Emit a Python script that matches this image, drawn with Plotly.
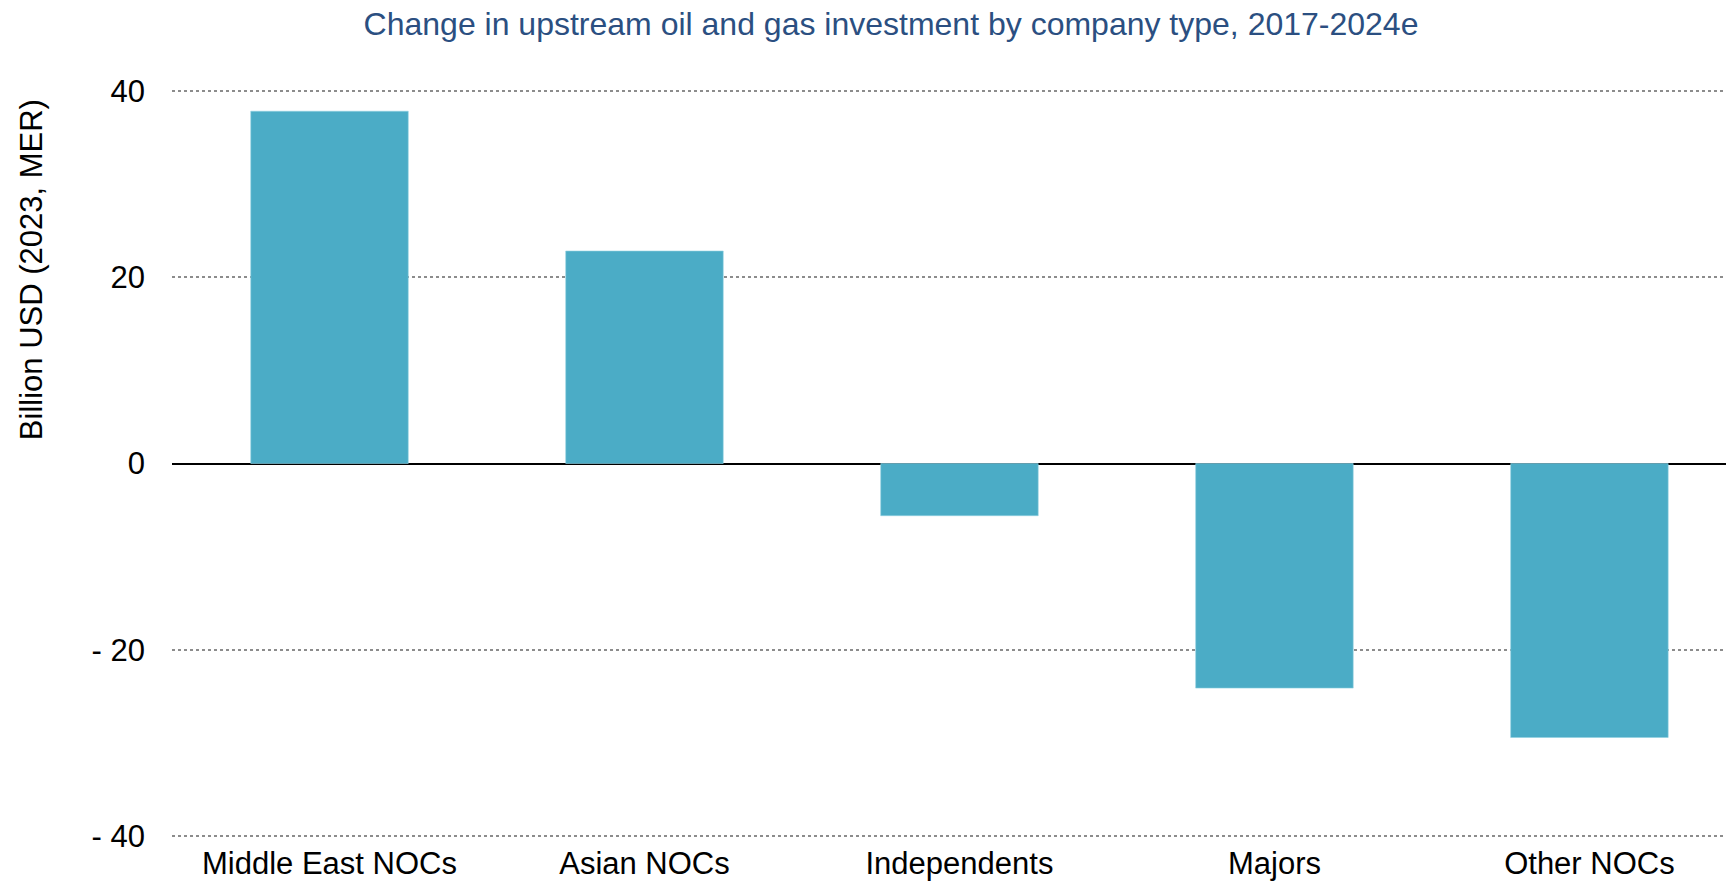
import plotly.graph_objects as go

company_types = ["Middle East NOCs", "Asian NOCs", "Independents", "Majors", "Other NOCs"]
change_bn_usd = [37.8, 22.8, -5.6, -24.1, -29.4]
tick_values = [-40, -20, 0, 20, 40]
tick_labels = ["- 40", "- 20", "0", "20", "40"]

font_family = "Liberation Sans, Arial, sans-serif"

fig = go.Figure()
fig.add_trace(go.Bar(x=company_types, y=change_bn_usd, width=0.5,
                     marker=dict(color="#4BACC6", line=dict(color="#8FD0E0", width=0.6))))

# page body has an 8px margin, so the figure is 8px smaller than the window on each side
fig.update_layout(
    width=1726, height=874,
    plot_bgcolor="white", paper_bgcolor="white",
    margin=dict(l=164, r=0, t=79, b=42, autoexpand=False),
    showlegend=False,
    font=dict(family=font_family, size=31, color="black"),
    title=dict(text="Change in upstream oil and gas investment by company type, 2017-2024e",
               x=0.5116, xanchor="center", y=0.982, yanchor="middle",
               font=dict(family=font_family, size=32, color="#2B4F81")),
)
fig.update_xaxes(range=[-0.5, 4.459], showgrid=False, showline=False, ticks="",
                 tickfont=dict(size=31), ticklabelstandoff=2, automargin=False)
fig.update_yaxes(range=[-40.4, 40.4], tickvals=tick_values, ticktext=tick_labels,
                 showgrid=True, gridcolor="#8C8C8C", gridwidth=1.8, griddash="dot",
                 zeroline=True, zerolinecolor="black", zerolinewidth=1.5,
                 showline=False, ticks="", tickfont=dict(size=31), ticklabelstandoff=26,
                 automargin=False)
fig.add_annotation(text="Billion USD (2023, MER)", textangle=-90, showarrow=False,
                   xref="paper", yref="paper", x=-0.0903, y=0.758, xanchor="center", yanchor="middle",
                   font=dict(family=font_family, size=31, color="black"))

fig.write_html("out.html")
